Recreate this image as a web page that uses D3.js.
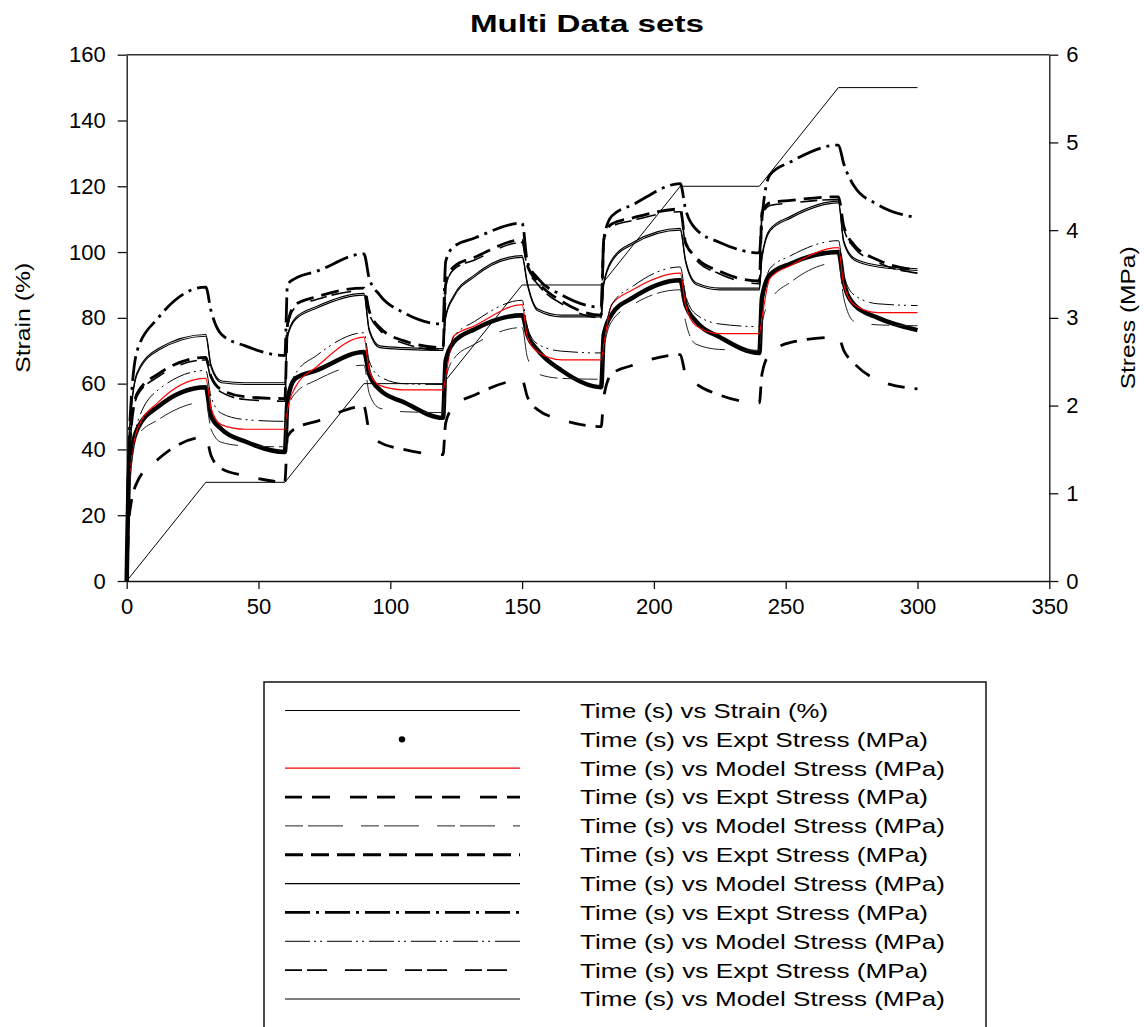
<!DOCTYPE html>
<html>
<head>
<meta charset="utf-8">
<script src="https://cdn.jsdelivr.net/npm/d3@7"></script>
<style>
  body { margin: 0; background: #fff; }
  svg { display: block; }
  text { font-family: "Liberation Sans", Arial, sans-serif; fill: #000; }
</style>
</head>
<body>
<div id="chart"></div>
<script>
const width = 1148;
const height = 1027;

// x ticks and axis ranges
const xTicks = [0, 50, 100, 150, 200, 250, 300, 350];
const strainTicks = [0, 20, 40, 60, 80, 100, 120, 140, 160];
const stressTicks = [0, 1, 2, 3, 4, 5, 6];

// strain (%) ramp / hold history
const strainTime = [0, 30, 60, 90, 120, 150, 180, 210, 240, 270, 300];
const strainValues = [0, 30, 30, 60, 60, 90, 90, 120, 120, 150, 150];

// stress readings (MPa): one row per 60 s cycle, taken at these seconds after cycle start
const cycleStarts = [0, 60, 120, 180, 240];
const cycleOffsets = [1, 4, 12, 30, 32, 36, 45, 60];

const expt1 = [
  [1.31, 1.73, 1.99, 2.21, 1.88, 1.73, 1.59, 1.47],
  [2.06, 2.31, 2.40, 2.61, 2.36, 2.18, 2.04, 1.86],
  [2.51, 2.72, 2.87, 3.03, 2.81, 2.63, 2.40, 2.21],
  [2.81, 3.04, 3.23, 3.43, 3.15, 2.96, 2.78, 2.60],
  [3.23, 3.49, 3.62, 3.75, 3.41, 3.15, 3.00, 2.86]
];
const model1 = [
  [1.13, 1.73, 2.04, 2.31, 1.97, 1.78, 1.73, 1.73],
  [1.95, 2.21, 2.44, 2.78, 2.40, 2.23, 2.18, 2.18],
  [2.33, 2.79, 2.91, 3.15, 2.78, 2.61, 2.52, 2.52],
  [2.70, 3.15, 3.32, 3.51, 3.15, 2.91, 2.82, 2.82],
  [3.00, 3.45, 3.60, 3.80, 3.38, 3.15, 3.06, 3.06]
];
const expt2 = [
  [0.75, 1.13, 1.39, 1.64, 1.43, 1.28, 1.20, 1.13],
  [1.65, 1.74, 1.82, 1.99, 1.71, 1.58, 1.50, 1.44],
  [1.80, 1.99, 2.12, 2.29, 2.10, 1.95, 1.84, 1.76],
  [2.10, 2.36, 2.46, 2.58, 2.36, 2.25, 2.12, 2.03],
  [2.36, 2.59, 2.72, 2.78, 2.63, 2.48, 2.29, 2.19]
];
const model2 = [
  [1.05, 1.65, 1.84, 2.04, 1.73, 1.58, 1.54, 1.53],
  [1.95, 2.14, 2.29, 2.46, 2.14, 1.97, 1.93, 1.92],
  [2.29, 2.53, 2.70, 2.89, 2.55, 2.36, 2.31, 2.30],
  [2.63, 2.96, 3.15, 3.32, 2.96, 2.70, 2.64, 2.63],
  [2.93, 3.19, 3.41, 3.63, 3.23, 2.96, 2.92, 2.91]
];
const expt3 = [
  [1.50, 2.14, 2.36, 2.55, 2.33, 2.18, 2.10, 2.08],
  [2.93, 3.15, 3.24, 3.34, 3.08, 2.89, 2.74, 2.66],
  [3.38, 3.58, 3.69, 3.89, 3.60, 3.41, 3.19, 3.03],
  [3.90, 4.07, 4.14, 4.24, 3.86, 3.69, 3.53, 3.42],
  [4.20, 4.31, 4.34, 4.38, 4.05, 3.83, 3.66, 3.54]
];
const model3 = [
  [1.69, 2.36, 2.63, 2.79, 2.44, 2.26, 2.24, 2.24],
  [2.78, 2.98, 3.11, 3.26, 2.85, 2.66, 2.64, 2.63],
  [3.00, 3.23, 3.47, 3.69, 3.38, 3.08, 3.01, 3.01],
  [3.38, 3.64, 3.84, 4.00, 3.64, 3.38, 3.32, 3.32],
  [3.68, 3.99, 4.14, 4.31, 3.86, 3.66, 3.58, 3.54]
];
const expt4 = [
  [1.69, 2.63, 3.00, 3.35, 3.08, 2.81, 2.68, 2.57],
  [3.38, 3.45, 3.53, 3.73, 3.45, 3.26, 3.06, 2.93],
  [3.64, 3.81, 3.91, 4.08, 3.64, 3.45, 3.26, 3.12],
  [3.90, 4.16, 4.29, 4.53, 4.24, 4.01, 3.86, 3.74],
  [4.13, 4.63, 4.78, 4.97, 4.76, 4.50, 4.29, 4.14]
];
const model4 = [
  [1.13, 1.80, 2.18, 2.40, 2.10, 1.91, 1.84, 1.82],
  [2.06, 2.36, 2.57, 2.83, 2.51, 2.33, 2.25, 2.24],
  [2.40, 2.78, 2.96, 3.20, 2.89, 2.70, 2.62, 2.60],
  [2.78, 3.15, 3.36, 3.58, 3.26, 3.04, 2.93, 2.90],
  [3.15, 3.56, 3.71, 3.88, 3.49, 3.26, 3.16, 3.14]
];
const expt5 = [
  [1.47, 2.11, 2.33, 2.52, 2.30, 2.15, 2.07, 2.05],
  [2.90, 3.12, 3.21, 3.31, 3.05, 2.86, 2.71, 2.63],
  [3.35, 3.55, 3.66, 3.86, 3.57, 3.38, 3.16, 3.00],
  [3.87, 4.04, 4.11, 4.21, 3.83, 3.66, 3.50, 3.39],
  [4.17, 4.28, 4.31, 4.35, 4.02, 3.80, 3.63, 3.51]
];
const model5 = [
  [1.71, 2.38, 2.65, 2.81, 2.46, 2.28, 2.26, 2.26],
  [2.80, 3.00, 3.13, 3.28, 2.87, 2.68, 2.66, 2.65],
  [3.02, 3.25, 3.49, 3.71, 3.40, 3.10, 3.03, 3.03],
  [3.40, 3.66, 3.86, 4.02, 3.66, 3.40, 3.34, 3.34],
  [3.70, 4.01, 4.16, 4.33, 3.88, 3.68, 3.60, 3.56]
];

const margin = { top: 54.7, right: 98.7, bottom: 446, left: 126.7 };
const plotBottom = height - margin.bottom;
const plotRight = width - margin.right;

const svg = d3.select("#chart")
  .append("svg")
  .attr("width", width)
  .attr("height", height);

const x = d3.scaleLinear().domain([0, 350]).range([margin.left, plotRight]);
const yStrain = d3.scaleLinear().domain([0, 160]).range([plotBottom, margin.top]);
const yStress = d3.scaleLinear().domain([0, 6]).range([plotBottom, margin.top]);

// title
svg.append("text")
  .attr("x", 587)
  .attr("y", 32)
  .attr("text-anchor", "middle")
  .attr("font-size", "23px")
  .attr("font-weight", "bold")
  .attr("textLength", 234)
  .attr("lengthAdjust", "spacingAndGlyphs")
  .text("Multi Data sets");

// axes
function styleAxis(g) {
  g.selectAll("path, line").attr("stroke", "#111").attr("stroke-width", 1.3);
  g.selectAll("text").attr("font-size", "22px").attr("fill", "#000")
    .attr("font-family", "'Liberation Sans', Arial, sans-serif");
}

svg.append("g")
  .attr("transform", `translate(0,${plotBottom})`)
  .call(d3.axisBottom(x).tickValues(xTicks).tickSize(8).tickSizeOuter(0).tickPadding(9))
  .call(styleAxis);

svg.append("g")
  .attr("transform", `translate(${margin.left},0)`)
  .call(d3.axisLeft(yStrain).tickValues(strainTicks).tickSize(9).tickSizeOuter(0).tickPadding(12))
  .call(styleAxis);

svg.append("g")
  .attr("transform", `translate(${plotRight},0)`)
  .call(d3.axisRight(yStress).tickValues(stressTicks).tickFormat(d3.format("d"))
    .tickSize(9).tickSizeOuter(0).tickPadding(8))
  .call(styleAxis);

// top frame line
svg.append("line")
  .attr("x1", margin.left).attr("x2", plotRight)
  .attr("y1", margin.top).attr("y2", margin.top)
  .attr("stroke", "#333").attr("stroke-width", 1.6);

// axis titles
svg.append("text")
  .attr("transform", `translate(30,${(margin.top + plotBottom) / 2}) rotate(-90)`)
  .attr("text-anchor", "middle")
  .attr("font-size", "20px")
  .attr("textLength", 110)
  .attr("lengthAdjust", "spacingAndGlyphs")
  .text("Strain (%)");

svg.append("text")
  .attr("transform", `translate(1135,${(margin.top + plotBottom) / 2}) rotate(-90)`)
  .attr("text-anchor", "middle")
  .attr("font-size", "20px")
  .attr("textLength", 143)
  .attr("lengthAdjust", "spacingAndGlyphs")
  .text("Stress (MPa)");

// series
const series = [
  { label: "Time (s) vs Strain (%)", strain: true, color: "#000", width: 1, dash: null },
  { label: "Time (s) vs Expt Stress (MPa)", values: expt1, color: "#000", width: 4.5, dash: null, dot: true },
  { label: "Time (s) vs Model Stress (MPa)", values: model1, color: "#ff0000", width: 1.2, dash: null },
  { label: "Time (s) vs Expt Stress (MPa)", values: expt2, color: "#000", width: 2.8, dash: "17,10,18,20" },
  { label: "Time (s) vs Model Stress (MPa)", values: model2, color: "#222", width: 1, dash: "18,5,35,18" },
  { label: "Time (s) vs Expt Stress (MPa)", values: expt3, color: "#000", width: 2.8, dash: "18,8" },
  { label: "Time (s) vs Model Stress (MPa)", values: model3, color: "#000", width: 1.2, dash: null },
  { label: "Time (s) vs Expt Stress (MPa)", values: expt4, color: "#000", width: 2.8, dash: "25,6,3,6" },
  { label: "Time (s) vs Model Stress (MPa)", values: model4, color: "#000", width: 1, dash: "25,4,2,4,2,5" },
  { label: "Time (s) vs Expt Stress (MPa)", values: expt5, color: "#000", width: 1.6, dash: "17,5,20,18" },
  { label: "Time (s) vs Model Stress (MPa)", values: model5, color: "#000", width: 1.2, dash: null }
];

function stressPoints(rows) {
  const pts = [[0, 0]];
  rows.forEach((row, c) => {
    row.forEach((v, j) => pts.push([cycleStarts[c] + cycleOffsets[j], v]));
  });
  return pts;
}

const strainLine = d3.line()
  .x((d, i) => x(strainTime[i]))
  .y(d => yStrain(d));

const stressLine = d3.line()
  .x(d => x(d[0]))
  .y(d => yStress(d[1]))
  .curve(d3.curveMonotoneX);

const plot = svg.append("g");

series.forEach(s => {
  const path = plot.append("path")
    .attr("fill", "none")
    .attr("stroke", s.color)
    .attr("stroke-width", s.width)
    .attr("stroke-linejoin", "round");
  if (s.strain) {
    path.attr("d", strainLine(strainValues));
  } else {
    path.attr("d", stressLine(stressPoints(s.values)));
  }
  if (s.dash) path.attr("stroke-dasharray", s.dash);
});

// legend
const legendX = 264, legendY = 682, legendW = 722;
const rowStart = 710.5, rowStep = 28.85;

svg.append("rect")
  .attr("x", legendX).attr("y", legendY)
  .attr("width", legendW).attr("height", 380)
  .attr("fill", "none").attr("stroke", "#111").attr("stroke-width", 1.5);

series.forEach((s, i) => {
  const yy = rowStart + i * rowStep;
  if (s.dot) {
    svg.append("circle")
      .attr("cx", 402).attr("cy", yy).attr("r", 3.2)
      .attr("fill", "#000");
  } else {
    const l = svg.append("line")
      .attr("x1", 285).attr("x2", 520)
      .attr("y1", yy).attr("y2", yy)
      .attr("stroke", s.color)
      .attr("stroke-width", s.width);
    if (s.dash) l.attr("stroke-dasharray", s.dash);
  }
  const isStrain = s.strain;
  const isModel = s.label.includes("Model");
  svg.append("text")
    .attr("x", 580)
    .attr("y", yy)
    .attr("dy", "0.35em")
    .attr("font-size", "21px")
    .attr("textLength", isStrain ? 248 : (isModel ? 365 : 348))
    .attr("lengthAdjust", "spacingAndGlyphs")
    .text(s.label);
});
</script>
</body>
</html>
